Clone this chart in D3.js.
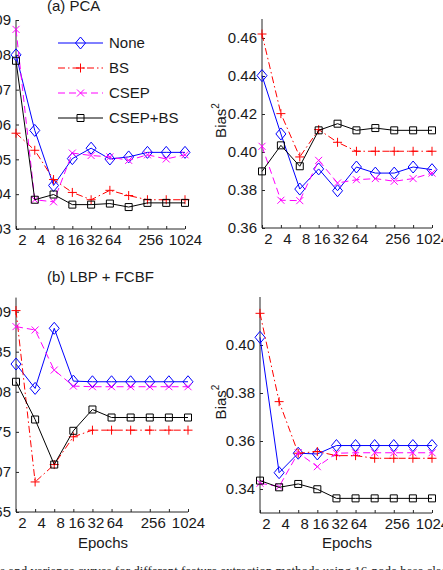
<!DOCTYPE html>
<html><head><meta charset="utf-8">
<script src="https://cdn.jsdelivr.net/npm/d3@7"></script>
<style>body{margin:0;background:#fff;overflow:hidden} svg{display:block}</style>
</head><body><svg id="c" width="443" height="570"></svg>
<script>
// ---------------- data ----------------
const epochs = [2, 4, 8, 16, 32, 64, 128, 256, 512, 1024];
const epochTickLabels = ["2", "4", "8", "16", "32", "64", "", "256", "", "1024"];
const methods = ["None", "BS", "CSEP", "CSEP+BS"];

// (a) PCA – variance (left)
const pcaVarNone   = [0.0800, 0.0583, 0.0425, 0.0502, 0.0532, 0.0501, 0.0507, 0.0520, 0.0520, 0.0520];
const pcaVarBS     = [0.0575, 0.0526, 0.0442, 0.0405, 0.0384, 0.0411, 0.0396, 0.0384, 0.0384, 0.0384];
const pcaVarCSEP   = [0.0873, 0.0384, 0.0378, 0.0518, 0.0511, 0.0507, 0.0497, 0.0513, 0.0501, 0.0513];
const pcaVarCSEPBS = [0.0783, 0.0384, 0.0399, 0.0370, 0.0370, 0.0373, 0.0363, 0.0375, 0.0375, 0.0375];
const pcaVarTicks  = [0.03, 0.04, 0.05, 0.06, 0.07, 0.08, 0.09];

// (a) PCA – bias^2 (right)
const pcaBiasNone   = [0.4402, 0.4095, 0.3805, 0.3911, 0.3796, 0.3921, 0.3889, 0.3889, 0.3921, 0.3907];
const pcaBiasBS     = [0.4621, 0.4202, 0.3974, 0.4118, 0.4051, 0.4004, 0.4004, 0.4004, 0.4004, 0.4004];
const pcaBiasCSEP   = [0.4030, 0.3746, 0.3744, 0.3956, 0.3837, 0.3854, 0.3860, 0.3846, 0.3860, 0.3889];
const pcaBiasCSEPBS = [0.3898, 0.4035, 0.3925, 0.4114, 0.4149, 0.4114, 0.4126, 0.4114, 0.4114, 0.4114];
const pcaBiasTicks  = [0.36, 0.38, 0.40, 0.42, 0.44, 0.46];

// (b) LBP + FCBF – variance (left)
const lbpVarNone   = [0.08346, 0.08042, 0.08792, 0.08133, 0.08125, 0.08125, 0.08125, 0.08125, 0.08125, 0.08125];
const lbpVarBS     = [0.09013, 0.06875, 0.07092, 0.07438, 0.07521, 0.07521, 0.07521, 0.07521, 0.07521, 0.07521];
const lbpVarCSEP   = [0.08813, 0.08771, 0.08271, 0.08071, 0.08063, 0.08063, 0.08063, 0.08063, 0.08063, 0.08063];
const lbpVarCSEPBS = [0.08125, 0.07654, 0.07092, 0.07513, 0.07779, 0.07679, 0.07679, 0.07679, 0.07679, 0.07679];
const lbpVarTicks  = [0.065, 0.07, 0.075, 0.08, 0.085, 0.09];

// (b) LBP + FCBF – bias^2 (right)
const lbpBiasNone   = [0.4032, 0.3468, 0.3549, 0.3546, 0.3581, 0.3581, 0.3581, 0.3581, 0.3581, 0.3581];
const lbpBiasBS     = [0.4132, 0.3764, 0.3549, 0.3556, 0.3539, 0.3539, 0.3528, 0.3528, 0.3528, 0.3528];
const lbpBiasCSEP   = [0.3424, 0.3410, 0.3551, 0.3493, 0.3549, 0.3551, 0.3551, 0.3551, 0.3551, 0.3551];
const lbpBiasCSEPBS = [0.3435, 0.3407, 0.3421, 0.3399, 0.3361, 0.3361, 0.3361, 0.3361, 0.3361, 0.3361];
const lbpBiasTicks  = [0.34, 0.36, 0.38, 0.40];

// ---------------- styles ----------------
const FONT = "'Liberation Sans', Arial, Helvetica, sans-serif";
const styles = {
  "None":    {color: "#0000ff", dash: null,      marker: "diamond"},
  "BS":      {color: "#ff0000", dash: "7,3,1.5,3", marker: "plus"},
  "CSEP":    {color: "#ff00ff", dash: "7,4",     marker: "cross"},
  "CSEP+BS": {color: "#000000", dash: null,      marker: "square"}
};
const AX = "#262626";

const svg = d3.select("#c");

function marker(g, type, x, y, color) {
  let d;
  if (type === "diamond") d = `M${x},${y-6}L${x+5},${y}L${x},${y+6}L${x-5},${y}Z`;
  else if (type === "square") d = `M${x-3.5},${y-3.5}h7v7h-7Z`;
  else if (type === "plus") d = `M${x-4.5},${y}h9M${x},${y-4.5}v9`;
  else d = `M${x-3.5},${y-3.5}l7,7M${x-3.5},${y+3.5}l7,-7`;
  g.append("path").attr("d", d).attr("fill", "none").attr("stroke", color).attr("stroke-width", 1);
}

const fmt2 = d3.format(".2f");
const fmtTrim = v => String(+v.toFixed(3));

const panels = [
  {x0: 16,  x1: 185, y0: 229, y1: 20,    domain: [0.03, 0.09],    ticks: pcaVarTicks,  fmt: fmt2,
   series: [pcaVarNone, pcaVarBS, pcaVarCSEP, pcaVarCSEPBS], legend: true},
  {x0: 262, x1: 432, y0: 228, y1: 19,    domain: [0.36, 0.47],    ticks: pcaBiasTicks, fmt: fmt2,
   series: [pcaBiasNone, pcaBiasBS, pcaBiasCSEP, pcaBiasCSEPBS], ylabel: true},
  {x0: 16,  x1: 188, y0: 512, y1: 297.6, domain: [0.065, 0.09175], ticks: lbpVarTicks, fmt: fmtTrim,
   series: [lbpVarNone, lbpVarBS, lbpVarCSEP, lbpVarCSEPBS], xlabel: true},
  {x0: 260, x1: 432, y0: 513, y1: 297,   domain: [0.33, 0.42],    ticks: lbpBiasTicks, fmt: fmt2,
   series: [lbpBiasNone, lbpBiasBS, lbpBiasCSEP, lbpBiasCSEPBS], ylabel: true, xlabel: true}
];

panels.forEach(p => {
  const x = d3.scalePoint().domain(epochs).range([p.x0, p.x1]).padding(0);
  const y = d3.scaleLinear().domain(p.domain).range([p.y0, p.y1]);
  const g = svg.append("g");

  // x axis
  const xa = g.append("g").attr("transform", `translate(0,${p.y0})`)
    .call(d3.axisBottom(x).tickSize(-3).tickSizeOuter(0)
      .tickFormat((d, i) => epochTickLabels[i]));
  xa.select(".domain").attr("stroke", AX).attr("d", `M${p.x0},0H${p.x1}`);
  xa.selectAll(".tick line").attr("stroke", AX);
  xa.selectAll(".tick text").attr("font-family", FONT).attr("font-size", 15).attr("fill", "#1a1a1a")
    .attr("y", 5).attr("dy", "0.71em")
    .attr("dx", function () { const n = this.textContent.length; return n === 1 ? 6 : (n === 4 ? 0 : 3); });

  // y axis
  const ya = g.append("g").attr("transform", `translate(${p.x0},0)`)
    .call(d3.axisLeft(y).tickValues(p.ticks).tickSize(-3).tickSizeOuter(0).tickFormat(p.fmt));
  ya.select(".domain").attr("stroke", AX).attr("d", `M0,${p.y0}V${p.y1}`);
  ya.selectAll(".tick line").attr("stroke", AX);
  ya.selectAll(".tick text").attr("font-family", FONT).attr("font-size", 15).attr("fill", "#1a1a1a")
    .attr("x", -5);

  // series
  p.series.forEach((vals, k) => {
    const m = methods[k], st = styles[m];
    const line = d3.line().x((d, i) => x(epochs[i])).y(d => y(d));
    g.append("path").datum(vals).attr("d", line).attr("fill", "none")
      .attr("stroke", st.color).attr("stroke-width", 1)
      .attr("stroke-dasharray", st.dash);
    const mg = g.append("g");
    vals.forEach((v, i) => marker(mg, st.marker, x(epochs[i]), y(v), st.color));
  });

  if (p.ylabel) {
    const cy = (p.y0 + p.y1) / 2 - 3;
    const t = g.append("text").attr("transform", `translate(226,${cy}) rotate(-90)`)
      .attr("text-anchor", "middle").attr("font-family", FONT).attr("font-size", 15).attr("fill", "#1a1a1a");
    t.append("tspan").text("Bias");
    t.append("tspan").attr("font-size", 10).attr("dy", -7).text("2");
  }
  if (p.xlabel) {
    g.append("text").attr("x", (p.x0 + p.x1) / 2 + 1).attr("y", 548).attr("text-anchor", "middle")
      .attr("font-family", FONT).attr("font-size", 15).attr("fill", "#1a1a1a").text("Epochs");
  }
  if (p.legend) {
    const lg = g.append("g");
    methods.forEach((m, k) => {
      const st = styles[m];
      const ly = 43 + k * 25;
      lg.append("path").attr("d", `M58,${ly}H103`).attr("stroke", st.color).attr("stroke-width", 1)
        .attr("stroke-dasharray", st.dash).attr("fill", "none");
      marker(lg, st.marker, 80.5, ly, st.color);
      lg.append("text").attr("x", 109).attr("y", ly).attr("dy", "0.35em")
        .attr("font-family", FONT).attr("font-size", 15).attr("fill", "#1a1a1a").text(m);
    });
  }
});

// panel titles
svg.append("text").attr("x", 47).attr("y", 11).attr("font-family", FONT).attr("font-size", 15)
  .attr("fill", "#1a1a1a").text("(a) PCA");
svg.append("text").attr("x", 47).attr("y", 282).attr("font-family", FONT).attr("font-size", 15)
  .attr("fill", "#1a1a1a").text("(b) LBP + FCBF");

// caption (cut by the page edges, as in the reference)
svg.append("text").attr("x", -18).attr("y", 575)
  .attr("font-family", "'Liberation Serif', 'Times New Roman', serif").attr("font-size", 13)
  .attr("fill", "#222").text("Bias and variance curves for different feature extraction methods using 16-node base classifiers.");
</script></body></html>
